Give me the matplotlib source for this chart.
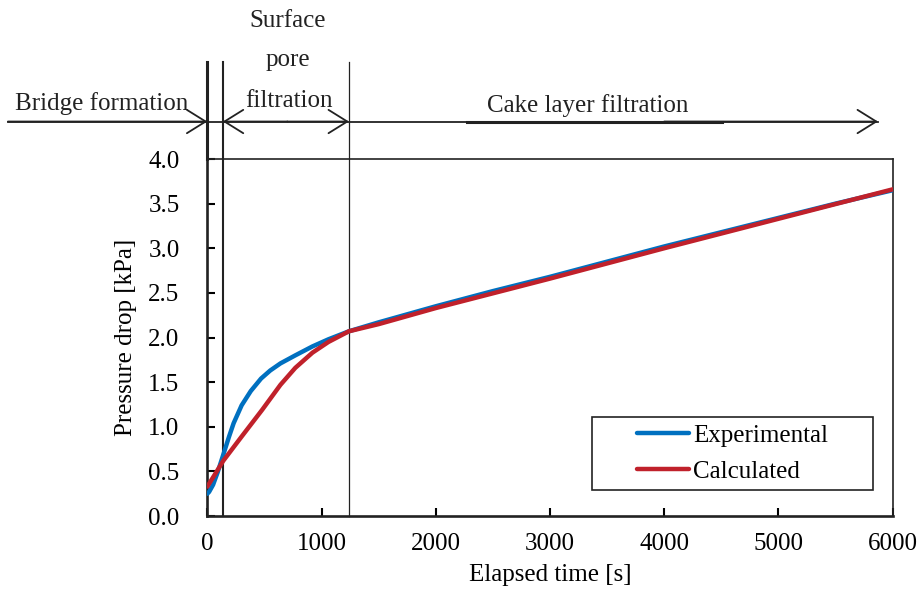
import numpy as np
import matplotlib
matplotlib.use("Agg")
import matplotlib.pyplot as plt
from matplotlib.patches import Rectangle

plt.rcParams['font.family'] = ['Liberation Serif', 'DejaVu Serif']
plt.rcParams['font.size'] = 18

# measured pressure drop
t_exp = [0, 15, 50, 90, 140, 190, 230, 300, 380, 470, 550, 640, 770, 920, 1060, 1240,
         1500, 2000, 2500, 3000, 3500, 4000, 4500, 5000, 5500, 6000]
dp_exp = [0.25, 0.27, 0.35, 0.49, 0.69, 0.89, 1.04, 1.24, 1.40, 1.54, 1.63, 1.71, 1.80, 1.90, 1.98, 2.07,
          2.17, 2.35, 2.52, 2.68, 2.85, 3.02, 3.18, 3.34, 3.50, 3.65]

# model
t_calc = [0, 140, 300, 480, 640, 770, 920, 1060, 1240, 1500, 2000, 3000, 4000, 5000, 6000]
dp_calc = [0.33, 0.62, 0.89, 1.19, 1.47, 1.66, 1.83, 1.95, 2.07, 2.15, 2.33, 2.66, 3.00, 3.33, 3.66]

# stage boundaries [s]
t_bridge_end = 0
t_pore_end = 135
t_cake_start = 1240

fig = plt.figure(figsize=(9.2, 5.98), dpi=100)
ax = fig.add_axes([0.2254, 0.1371, 0.7448, 0.597])

lkw = dict(lw=3.2, solid_capstyle='round', solid_joinstyle='round')
ax.plot(t_exp, dp_exp, color='#0070c0', label='Experimental', zorder=3, **lkw)
ax.plot(t_calc, dp_calc, color='#c0212b', label='Calculated', zorder=4, **lkw)

ax.set_xlim(0, 6000)
ax.set_ylim(0, 4.0)
ax.set_xticks(np.arange(0, 6001, 1000))
ax.set_yticks(np.arange(0, 4.01, 0.5))
ax.set_yticklabels([f'{v:.1f}' for v in np.arange(0, 4.01, 0.5)])
ax.tick_params(axis='y', direction='in', length=6, width=1.5, pad=20, right=False)
ax.tick_params(axis='x', direction='in', length=6, width=1.5, pad=12, top=False)
for s in ['left', 'bottom']:
    ax.spines[s].set_linewidth(1.9)
for s in ['top', 'right']:
    ax.spines[s].set_linewidth(1.2)
for s in ax.spines.values():
    s.set_color('#222222')

ax.set_xlabel('Elapsed time [s]', labelpad=7)
ax.set_ylabel('Pressure drop [kPa]', labelpad=8)

# stage boundary lines
y_top = 5.09
ax.plot([t_bridge_end, t_bridge_end], [4.0, y_top], color='#222222', lw=2.2, clip_on=False)
ax.plot([t_pore_end, t_pore_end], [0, y_top], color='#222222', lw=1.5, clip_on=False, zorder=2)
ax.plot([t_cake_start, t_cake_start], [0, y_top], color='#222222', lw=0.9, clip_on=False, zorder=2)

# stage arrows
y_arr = 4.42
ax.plot([-1746, 5872], [y_arr, y_arr], color='#222222', lw=1.3, clip_on=False)
ax.plot([2273, 4506], [y_arr, y_arr], color='#222222', lw=2.2, clip_on=False)
aprops = dict(arrowstyle='->,head_length=0.45,head_width=0.28', color='#222222',
              lw=1.3, mutation_scale=30, shrinkA=0, shrinkB=0)
ax.annotate('', xy=(t_bridge_end, y_arr), xytext=(-1746, y_arr), arrowprops=aprops,
            annotation_clip=False)
ax.annotate('', xy=(t_pore_end, y_arr), xytext=(700, y_arr), arrowprops=aprops,
            annotation_clip=False)
ax.annotate('', xy=(t_cake_start, y_arr), xytext=(700, y_arr), arrowprops=aprops,
            annotation_clip=False)
ax.annotate('', xy=(5872, y_arr), xytext=(4000, y_arr), arrowprops=aprops,
            annotation_clip=False)

tkw = dict(ha='center', va='baseline', color='#222222', clip_on=False)
ax.text(-927, 4.55, 'Bridge formation', **tkw)
ax.text(706, 5.48, 'Surface', **tkw)
ax.text(706, 5.04, 'pore', **tkw)
ax.text(712, 4.58, 'filtration', **tkw)
ax.text(3333, 4.53, 'Cake layer filtration', **tkw)

# legend box
ax.add_patch(Rectangle((0.561, 0.073), 0.410, 0.204, transform=ax.transAxes,
                       fill=False, edgecolor='#222222', lw=1.2, zorder=5))
ax.legend(loc='center left', bbox_to_anchor=(0.627, 0.175), frameon=False,
          borderpad=0, borderaxespad=0, handlelength=2.1, handletextpad=0.15,
          labelspacing=0.55)

fig.savefig('out.png', dpi=100)
